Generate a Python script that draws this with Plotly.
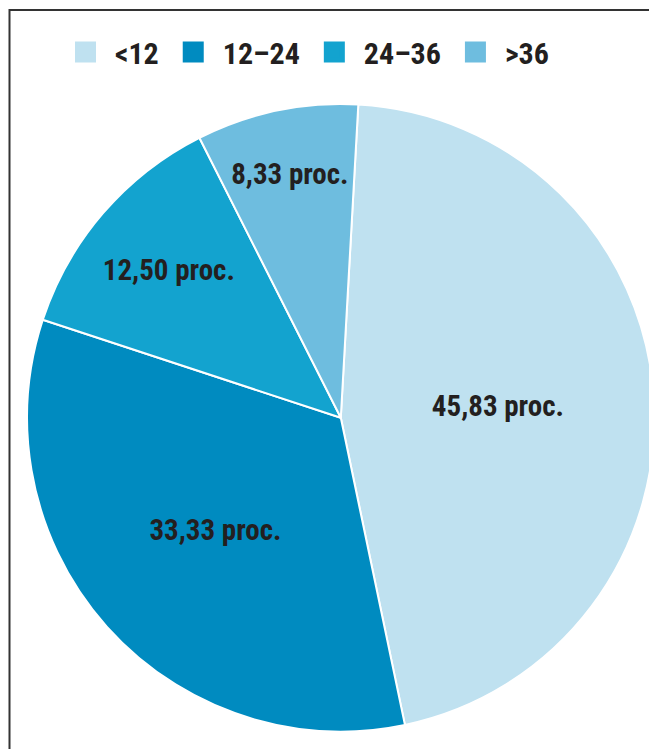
import plotly.graph_objects as go

categories = ["<12", "12–24", "24–36", ">36"]
values = [45.83, 33.33, 12.50, 8.33]
colors = ["#BFE1F0", "#008BC0", "#13A3CF", "#6EBDDF"]

W, H = 657, 749
FONT = "Roboto Condensed, Open Sans Condensed, DejaVu Sans Condensed, sans-serif"
TXT = "#231F20"

fig = go.Figure()
fig.add_trace(go.Pie(
    labels=categories,
    values=values,
    sort=False,
    direction="clockwise",
    rotation=3.2,
    marker=dict(colors=colors, line=dict(color="white", width=2)),
    texttemplate="%{value:.2f} proc.",
    textposition="inside",
    insidetextorientation="horizontal",
    textfont=dict(family=FONT, size=29, color=TXT, weight="bold"),
    hoverinfo="label+value",
    showlegend=False,
    domain=dict(x=[19.1 / W, 646.5 / W], y=[(H - 723.5) / H, (H - 96.1) / H]),
))

# legend entries (large square keys) for the pie categories
for cat, col in zip(categories, colors):
    fig.add_trace(go.Scatter(
        x=[None], y=[None], mode="markers", name=cat,
        marker=dict(symbol="square", size=16, color=col, line=dict(color=col, width=5)),
        hoverinfo="skip",
    ))

fig.update_layout(
    width=W, height=H,
    margin=dict(l=0, r=0, t=0, b=0),
    paper_bgcolor="white",
    plot_bgcolor="white",
    separators=",.",
    showlegend=True,
    xaxis=dict(visible=False),
    yaxis=dict(visible=False),
    legend=dict(
        orientation="h",
        x=48 / W, xanchor="left",
        y=1 - 44 / H, yanchor="middle",
        itemwidth=49,
        font=dict(family=FONT, size=30, color=TXT, weight="bold"),
        itemclick=False, itemdoubleclick=False,
        bgcolor="rgba(0,0,0,0)",
    ),
    shapes=[dict(
        type="path", xref="paper", yref="paper",
        path=f"M {1.5 / W} -0.1 L {1.5 / W} {1 - 2 / H} L 1.1 {1 - 2 / H}",
        line=dict(color="#333333", width=2),
    )],
)

fig.write_html("out.html")
